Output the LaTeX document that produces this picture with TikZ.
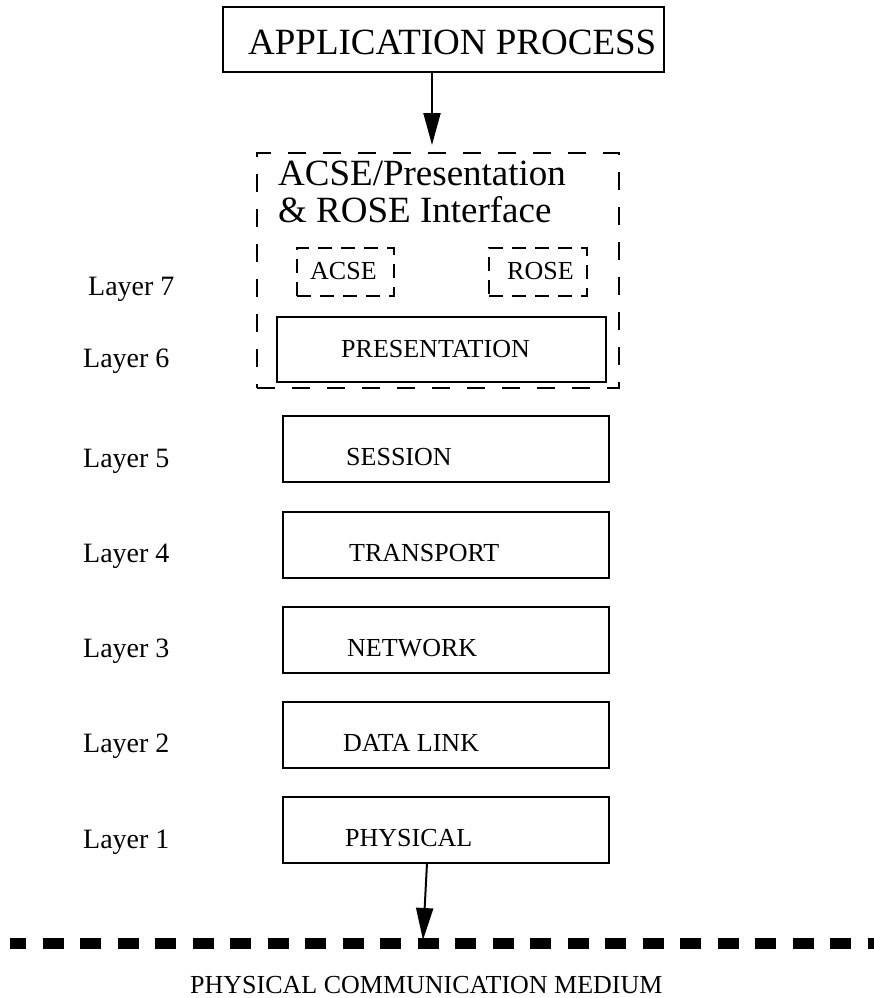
\documentclass[tikz,border=0pt]{standalone}
\usepackage{fontspec}
\setmainfont{Liberation Serif}
\usetikzlibrary{arrows.meta}
\begin{document}
\begin{tikzpicture}[x=1pt,y=-1pt,
 box/.style={draw, line width=1.4pt, inner sep=0, minimum width=326pt, minimum height=66pt},
 outerdash/.style={draw, line width=1.4pt, dash pattern=on 18pt off 17pt, inner sep=0},
 smalldash/.style={draw, line width=1.4pt, dash pattern=on 14pt off 9pt, inner sep=0, minimum width=97pt, minimum height=48pt},
 lbl/.style={anchor=base west, inner sep=0, font=\fontsize{26}{30}\selectfont},
 layerlbl/.style={anchor=base west, inner sep=0, font=\fontsize{28}{32}\selectfont},
 biglbl/.style={anchor=base west, inner sep=0, font=\fontsize{37}{44}\selectfont},
 arr/.style={line width=2pt, -{Triangle[length=32pt,width=17pt]}},
 medium/.style={line width=11pt, dash pattern=on 21pt off 16.5pt, dash phase=5pt}
]
\useasboundingbox (0,0) rectangle (874,998);

% Application process
\node[draw, line width=1.4pt, inner sep=0, minimum width=441pt, minimum height=65pt] (app) at (443.5,39.5) {};
\node[biglbl] (apptxt) at (248,55) {APPLICATION PROCESS};

% ACSE/Presentation & ROSE interface (layer 7/6)
\node[outerdash, minimum width=362pt, minimum height=235pt] (iface) at (438,270.5) {};
\node[biglbl] (iftxt1) at (278,185) {ACSE/Presentation};
\node[biglbl] (iftxt2) at (278,222) {\& ROSE Interface};
\node[smalldash] (acse) at (345.5,272) {};
\node[lbl] (acsetxt) at (310,279) {ACSE};
\node[smalldash, minimum width=98pt] (rose) at (538,272) {};
\node[lbl] (rosetxt) at (507,279) {ROSE};
\node[box, minimum width=329pt, minimum height=65pt] (pres) at (441.5,349.5) {};
\node[lbl] (prestxt) at (341,357) {PRESENTATION};

% Layers 5..1
\node[box] (session)   at (446,449) {};
\node[box] (transport) at (446,545) {};
\node[box] (network)   at (446,640) {};
\node[box] (datalink)  at (446,735) {};
\node[box] (physical)  at (446,830) {};
\node[lbl] (sessiontxt)   at (346,465) {SESSION};
\node[lbl] (transporttxt) at (349,561) {TRANSPORT};
\node[lbl] (networktxt)   at (347,656) {NETWORK};
\node[lbl] (datalinktxt)  at (343,751) {DATA LINK};
\node[lbl] (physicaltxt)  at (345,846) {PHYSICAL};

% Layer labels
\node[layerlbl] (l7) at (88,295) {Layer 7};
\node[layerlbl] (l6) at (83,367) {Layer 6};
\node[layerlbl] (l5) at (83,467) {Layer 5};
\node[layerlbl] (l4) at (83,562) {Layer 4};
\node[layerlbl] (l3) at (83,657) {Layer 3};
\node[layerlbl] (l2) at (83,752) {Layer 2};
\node[layerlbl] (l1) at (83,848) {Layer 1};

% Physical communication medium
\coordinate (medL) at (10,943.5);
\coordinate (medR) at (874,943.5);
\draw[medium] (medL) -- (medR);
\node[lbl] (medtxt) at (190,993) {PHYSICAL COMMUNICATION MEDIUM};

% Arrows
\coordinate (ifhit) at (432,145);
\draw[arr] (app.south -| ifhit) -- (ifhit);
\coordinate (medhit) at (423,940);
\coordinate (physout) at (427,863);
\draw[arr] (physout) -- (medhit);
\end{tikzpicture}
\end{document}
